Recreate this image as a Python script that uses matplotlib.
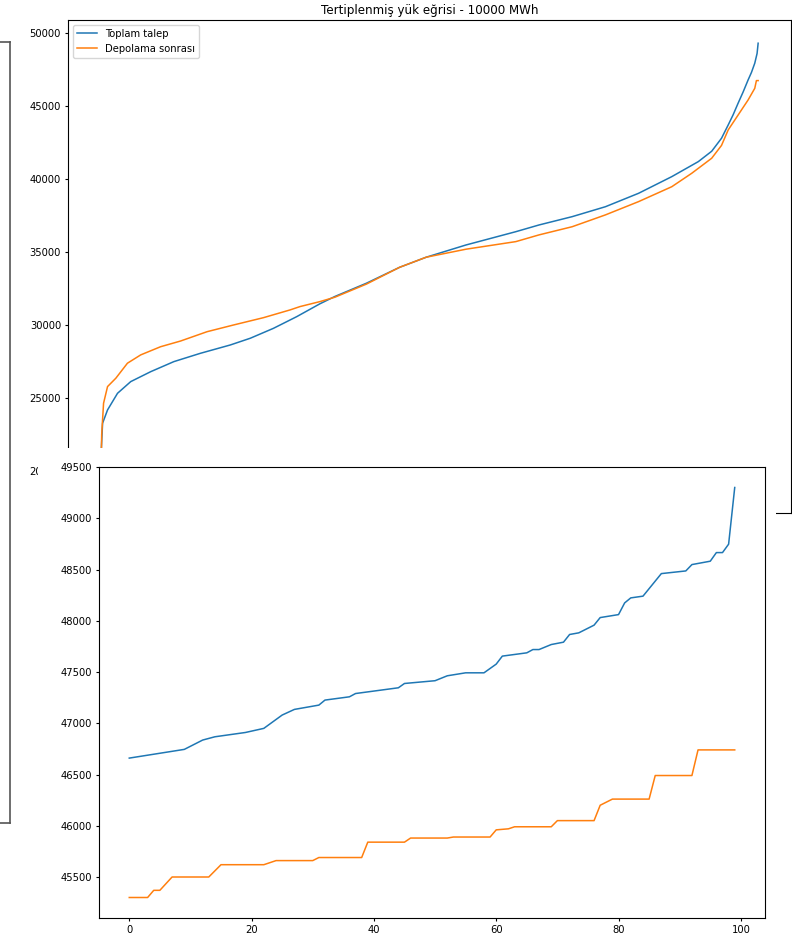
import matplotlib
matplotlib.use("Agg")
import matplotlib.pyplot as plt
from matplotlib.patches import Rectangle
from matplotlib.lines import Line2D

# sorted load curve, full year (hours vs MW)
hours_total = [0, 7, 23, 89, 222, 398, 664, 973, 1327, 1725, 1991, 2300, 2610,
               2919, 3118, 3539, 3981, 4335, 4866, 5530, 5839, 6281, 6724, 7166,
               7608, 7962, 8140, 8271, 8360, 8426, 8492, 8559, 8625, 8670, 8714,
               8745, 8759]
load_total = [18660, 21600, 23270, 24180, 25320, 26120, 26800, 27490, 28060,
              28630, 29090, 29770, 30570, 31450, 31950, 32860, 33950, 34640,
              35480, 36390, 36850, 37420, 38100, 39020, 40160, 41190, 41900,
              42790, 43700, 44400, 45190, 45960, 46780, 47300, 47930, 48600,
              49300]

hours_storage = [0, 11, 36, 89, 199, 354, 531, 796, 1062, 1416, 1769, 2167, 2521,
                 2654, 2919, 3118, 3539, 3981, 4335, 4866, 5530, 5839, 6281, 6724,
                 7166, 7608, 7874, 8140, 8271, 8360, 8492, 8559, 8625, 8714, 8736,
                 8759]
load_storage = [19200, 22500, 24640, 25780, 26350, 27380, 27950, 28510, 28900,
                29540, 30000, 30500, 31030, 31260, 31600, 31900, 32800, 33950,
                34640, 35190, 35710, 36170, 36730, 37540, 38450, 39470, 40390,
                41420, 42300, 43360, 44380, 44900, 45410, 46210, 46740, 46740]

# top 100 hours (zoomed window)
idx_total = [0, 9, 12, 14, 19, 22, 25, 27, 31, 32, 36, 37, 44, 45, 50, 52, 55,
             58, 60, 61, 65, 66, 67, 69, 71, 72, 73.5, 76, 77, 80, 81, 82, 84,
             87, 91, 92, 95, 96, 97, 98, 99]
top_total = [46660, 46745, 46836, 46868, 46910, 46950, 47080, 47135, 47177, 47226,
             47258, 47290, 47346, 47388, 47415, 47463, 47492, 47492, 47577, 47655,
             47687, 47719, 47719, 47768, 47791, 47866, 47882, 47957, 48031, 48060,
             48174, 48223, 48240, 48460, 48486, 48548, 48581, 48665, 48665, 48747,
             49300]

idx_storage = [0, 3, 4, 5, 7, 13, 15, 22, 24, 30, 31, 38, 39, 45, 46, 52, 53, 59,
               60, 62, 63, 69, 70, 76, 77, 78, 79, 85, 86, 92, 93, 99]
top_storage = [45300, 45300, 45370, 45370, 45500, 45500, 45620, 45620, 45660, 45660,
               45690, 45690, 45840, 45840, 45880, 45880, 45890, 45890, 45960, 45970,
               45990, 45990, 46050, 46050, 46200, 46230, 46260, 46260, 46490, 46490,
               46740, 46740]

plt.rcParams['font.size'] = 7.2
plt.rcParams['lines.linewidth'] = 1.1
plt.rcParams['xtick.major.size'] = 2.5
plt.rcParams['ytick.major.size'] = 2.5
plt.rcParams['xtick.major.pad'] = 2.5
plt.rcParams['ytick.major.pad'] = 2.5

W, H = 792, 938
fig = plt.figure(figsize=(W / 100, H / 100), dpi=100)


def box(l, t, r, b):
    return [l / W, 1 - b / H, (r - l) / W, (b - t) / H]


# first window: full year curve
ax1 = fig.add_axes(box(68, 20, 791, 513))
ax1.plot(hours_total, load_total, color='tab:blue', label='Toplam talep')
ax1.plot(hours_storage, load_storage, color='tab:orange', label='Depolama sonrası')
ax1.set_ylim(17120, 50890)
ax1.set_yticks([20000, 25000, 30000, 35000, 40000, 45000, 50000])
ax1.set_title('Tertiplenmiş yük eğrisi - 10000 MWh', fontsize=8.6, pad=4)
ax1.legend(loc='upper left', fontsize=7.2)

# window edge of the second figure covering the first one
fig.add_artist(Rectangle((38 / W, 0), (776 - 38) / W, 1 - 448 / H,
                         transform=fig.transFigure, facecolor='white',
                         edgecolor='none', zorder=1))

# edge of a window further behind on the left
for xs, ys in [([0, 10], [42, 42]), ([10, 10], [42, 823]), ([0, 10], [823, 823])]:
    fig.add_artist(Line2D([x / W for x in xs], [1 - y / H for y in ys],
                          transform=fig.transFigure, color='#555555',
                          linewidth=1.2, zorder=0.5))

# second window: top 100 hours
ax2 = fig.add_axes(box(99, 467, 765, 918), zorder=2)
ax2.plot(idx_total, top_total, color='tab:blue')
ax2.plot(idx_storage, top_storage, color='tab:orange')
ax2.set_xlim(-4.95, 103.95)
ax2.set_ylim(45100, 49500)
ax2.set_xticks([0, 20, 40, 60, 80, 100])
ax2.set_yticks([45500, 46000, 46500, 47000, 47500, 48000, 48500, 49000, 49500])

fig.savefig('out.png', dpi=100)
